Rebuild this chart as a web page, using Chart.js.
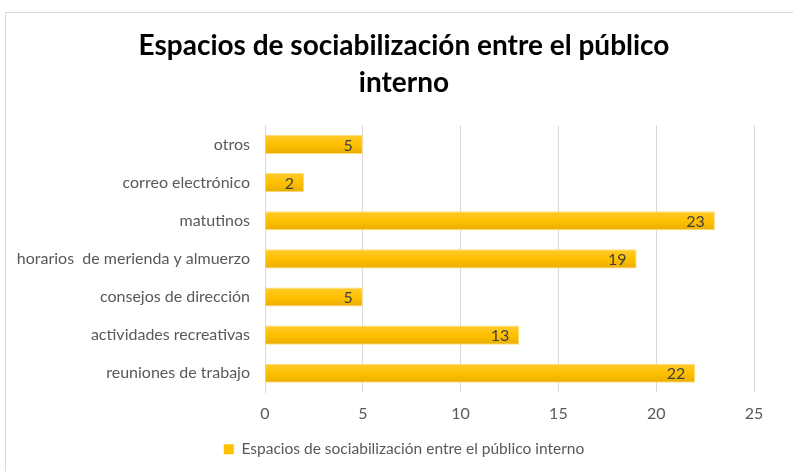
<!DOCTYPE html>
<html><head><meta charset="utf-8">
<script src="https://cdn.jsdelivr.net/npm/chart.js@4/dist/chart.umd.min.js"></script>
<style>
html,body{margin:0;padding:0;background:#fff;}
#wrap{position:relative;width:793px;height:471px;overflow:hidden;}
#frame{position:absolute;left:5px;top:12px;width:800px;height:470px;border:1px solid #d9d9d9;box-sizing:border-box;}
canvas{position:absolute;left:0;top:0;}
</style></head>
<body>
<div id="wrap"><div id="frame"></div><canvas id="c" width="793" height="471"></canvas></div>
<script>
const categories = ["otros","correo electrónico","matutinos","horarios  de merienda y almuerzo","consejos de dirección","actividades recreativas","reuniones de trabajo"];
const values = [5,2,23,19,5,13,22];
const seriesName = "Espacios de sociabilización entre el público interno";
const titleLines = ["Espacios de sociabilización entre el público","interno"];
const xTicks = [0,5,10,15,20,25];

const FONT = "Lato, 'Open Sans', sans-serif";
const CAT_PCT = 0.5;

function barFill(ctx){
  const chart = ctx.chart;
  const ys = chart.scales && chart.scales.y;
  if(!ys || ctx.dataIndex === undefined) return '#FFC000';
  const cy = ys.getPixelForValue(ctx.dataIndex);
  const h = (chart.chartArea.bottom - chart.chartArea.top)/categories.length*CAT_PCT/2;
  const g = chart.ctx.createLinearGradient(0, cy-h, 0, cy+h);
  g.addColorStop(0,'#FFCB2E');
  g.addColorStop(0.5,'#FFC000');
  g.addColorStop(1,'#E8AE00');
  return g;
}

const labelPlugin = {
  id:'barLabels',
  afterDatasetsDraw(chart){
    const c = chart.ctx;
    const meta = chart.getDatasetMeta(0);
    c.save();
    c.font = "16px " + FONT;
    c.fillStyle = '#404040';
    c.textAlign = 'right';
    c.textBaseline = 'middle';
    meta.data.forEach((el,i)=>{
      c.fillText(String(values[i]), el.x - 10, el.y + 1);
    });
    c.restore();
  }
};

new Chart(document.getElementById('c'),{
  type:'bar',
  data:{labels:categories,datasets:[{label:seriesName,data:values,backgroundColor:barFill,borderColor:'#FFDC7A',borderWidth:1,barPercentage:1,categoryPercentage:CAT_PCT}]},
  options:{
    indexAxis:'y',
    responsive:false,
    animation:false,
    layout:{padding:{left:15,right:0,top:28,bottom:4}},
    plugins:{
      title:{display:true,text:titleLines,color:'#000',font:{family:FONT,size:28,weight:'bold',lineHeight:1.3},padding:{top:0,bottom:24.6}},
      legend:{position:'bottom',labels:{color:'#595959',font:{family:FONT,size:15.5},boxWidth:10,boxHeight:10,padding:7,generateLabels:(ch)=>[{text:seriesName,fillStyle:'#FFC000',strokeStyle:'#FFC000',lineWidth:0,fontColor:'#595959'}]}},
      tooltip:{enabled:false}
    },
    scales:{
      x:{min:0,max:25,afterBuildTicks:(s)=>{s.ticks=xTicks.map(v=>({value:v}));},
        grid:{color:'#d9d9d9',drawTicks:false},border:{display:false},
        ticks:{color:'#595959',font:{family:FONT,size:16},padding:11.5}},
      y:{grid:{display:false,drawTicks:false},border:{display:true,color:'#d9d9d9'},
        afterFit:(s)=>{s.width=250;},
        ticks:{color:'#595959',font:{family:FONT,size:16},padding:15}},
      yR:{type:'linear',position:'right',display:true,grid:{display:false,drawTicks:false},border:{display:false},
        ticks:{display:false},afterFit:(s)=>{s.width=39;}}
    }
  },
  plugins:[labelPlugin]
});
</script>
</body></html>
